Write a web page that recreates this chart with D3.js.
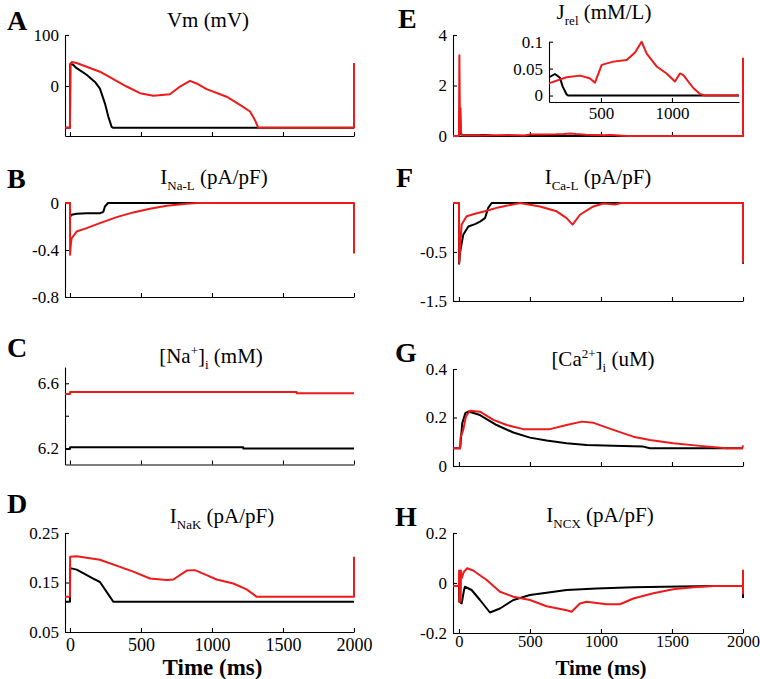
<!DOCTYPE html>
<html>
<head>
<meta charset="utf-8">
<script src="https://cdn.jsdelivr.net/npm/d3@7"></script>
<style>
  body { margin: 0; background: #fff; }
  svg { display: block; }
  text { font-family: "Liberation Serif", "Times New Roman", serif; fill: #000; }
</style>
</head>
<body>
<svg id="chart" width="760" height="679"></svg>
<script>
// ---------------- DATA ----------------
const timeTicks = [0, 500, 1000, 1500, 2000];
const timeTickLabels = ["0", "500", "1000", "1500", "2000"];

// A: Vm (mV)
const vmTicks = [0, 100];
const vmTickLabels = ["0", "100"];
const vmBlack = [[-35,-82],[0,-82],[2,43],[20,42],[47,35],[117,22],[176,8],[211,-5],[246,-34],[270,-60],[293,-80],[305,-82],[2000,-82]];
const vmRed = [[-35,-82],[0,-82],[3,44],[12,47],[47,45],[211,28],[399,-1],[493,-14],[587,-19],[704,-16],[775,-1],[845,10],[892,5],[962,-6],[1103,-21],[1197,-37],[1268,-50],[1303,-67],[1326,-82],[2000,-82],[2000,45]];

// B: INa-L (pA/pF)
const inalTicks = [-0.8, -0.4, 0];
const inalTickLabels = ["-0.8", "-0.4", "0"];
const inalBlack = [[-35,0],[0,0],[1,-0.115],[12,-0.1],[47,-0.092],[117,-0.087],[211,-0.087],[235,-0.075],[246,-0.03],[268,0],[2000,0]];
const inalRed = [[-35,0],[0,0],[1,-0.44],[6,-0.35],[12,-0.3],[47,-0.243],[117,-0.214],[211,-0.171],[329,-0.12],[446,-0.08],[563,-0.049],[681,-0.023],[822,-0.006],[900,0],[2000,0],[2000,-0.43]];

// C: [Na+]i (mM)
const naiTicks = [6.2, 6.4, 6.6];
const naiTickLabels = ["6.2", "", "6.6"];
const naiBlack = [[-35,6.196],[0,6.196],[1,6.206],[1220,6.206],[1221,6.198],[2000,6.198]];
const naiRed = [[-35,6.534],[0,6.534],[1,6.546],[1596,6.546],[1597,6.538],[2000,6.538]];

// D: INaK (pA/pF)
const nakTicks = [0.05, 0.15, 0.25];
const nakTickLabels = ["0.05", "0.15", "0.25"];
const nakBlack = [[-35,0.111],[0,0.111],[1,0.179],[47,0.176],[164,0.158],[211,0.151],[282,0.121],[305,0.111],[2000,0.111]];
const nakRed = [[-35,0.121],[0,0.121],[1,0.202],[47,0.203],[211,0.196],[446,0.172],[563,0.158],[681,0.155],[728,0.156],[822,0.174],[880,0.175],[962,0.165],[1033,0.156],[1150,0.148],[1244,0.136],[1315,0.121],[2000,0.121],[2000,0.202]];

// E: Jrel (mM/L)
const jrelTicks = [0, 2, 4];
const jrelTickLabels = ["0", "2", "4"];
const jrelInsetTicks = [0, 0.05, 0.1];
const jrelInsetTickLabels = ["0", "0.05", "0.1"];
const jrelInsetTimeTicks = [500, 1000];
const jrelInsetTimeLabels = ["500", "1000"];
const jrelBlack = [[-42,0],[0,0],[5,1.0],[12,0.1],[20,0.03],[100,0.033],[136,0.034],[176,0.04],[211,0.033],[230,0.017],[258,0.002],[270,0],[2000,0]];
const jrelRed = [[-42,0],[0,0],[3,3.2],[7,0.3],[11,1.1],[15,0.15],[20,0.02],[60,0.02],[136,0.023],[258,0.034],[352,0.037],[420,0.032],[458,0.024],[505,0.057],[587,0.063],[681,0.066],[740,0.08],[786,0.1],[822,0.078],[892,0.054],[962,0.041],[1021,0.026],[1056,0.041],[1080,0.038],[1150,0.014],[1197,0.003],[1230,0],[2000,0],[2000,3.1]];

// F: ICa-L (pA/pF)
const icalTicks = [-1.5, -0.5];
const icalTickLabels = ["-1.5", "-0.5"];
const icalBlack = [[-42,0.5],[0,0.5],[1,-0.74],[8,-0.5],[30,-0.15],[66,0.02],[113,0.07],[148,0.12],[183,0.19],[206,0.4],[230,0.5],[2000,0.5],[2000,-0.74]];
const icalRed = [[-42,0.5],[0,0.5],[2,-0.72],[10,-0.3],[19,0.06],[54,0.23],[113,0.28],[183,0.33],[277,0.41],[430,0.5],[570,0.43],[688,0.33],[758,0.19],[800,0.06],[852,0.26],[946,0.43],[1016,0.49],[1100,0.47],[1140,0.5],[2000,0.5],[2000,-0.72]];

// G: [Ca2+]i (uM)
const caiTicks = [0, 0.2, 0.4];
const caiTickLabels = ["0", "0.2", "0.4"];
const caiBlack = [[-42,0.073],[8,0.073],[23,0.176],[45,0.218],[68,0.225],[148,0.21],[265,0.169],[383,0.138],[500,0.117],[617,0.105],[758,0.094],[899,0.087],[1087,0.083],[1298,0.08],[1345,0.073],[2000,0.073]];
const caiRed = [[-42,0.073],[8,0.073],[12,0.12],[30,0.149],[49,0.204],[77,0.228],[148,0.224],[242,0.19],[336,0.169],[453,0.152],[641,0.152],[758,0.169],[864,0.183],[948,0.178],[1087,0.149],[1228,0.121],[1345,0.107],[1509,0.094],[1697,0.083],[1885,0.073],[1995,0.073],[2000,0.085]];

// H: INCX (pA/pF)
const ncxTicks = [-0.2, 0, 0.2];
const ncxTickLabels = ["-0.2", "0", "0.2"];
const ncxBlack = [[-42,-0.012],[0,-0.012],[2,-0.075],[19,-0.082],[35,-0.03],[42,-0.015],[89,-0.028],[148,-0.068],[218,-0.118],[289,-0.102],[383,-0.068],[500,-0.048],[617,-0.039],[758,-0.028],[969,-0.022],[1228,-0.017],[1556,-0.014],[1800,-0.012],[2000,-0.012],[2000,-0.06]];
const ncxRed = [[-42,-0.012],[0,-0.012],[1,0.05],[3,-0.075],[12,-0.075],[14,0.05],[19,0.019],[35,0.045],[58,0.059],[100,0.05],[195,0.012],[289,-0.035],[383,-0.055],[500,-0.068],[617,-0.093],[758,-0.109],[793,-0.115],[852,-0.082],[899,-0.075],[1040,-0.085],[1134,-0.085],[1228,-0.062],[1369,-0.041],[1509,-0.025],[1650,-0.017],[1791,-0.012],[2000,-0.012],[2000,0.05],[2000,-0.045]];

// ---------------- LAYOUT ----------------
const RED = "#ee1a1a";
const SERIF = '"Liberation Serif", "Times New Roman", Times, serif';
const svg = d3.select("#chart");
svg.append("rect").attr("width", 760).attr("height", 679).attr("fill", "#fff");

const cols = {
  left:  { domain: [-35, 2000], range: [65, 354] },
  right: { domain: [-42, 2000], range: [453, 743] }
};

const panels = [
  { letter: "A", lx: 7,   ly: 30,  col: "left",  yRange: [136, 35],    yDomain: [-98, 100],  ticks: vmTicks,   labels: vmTickLabels,   black: vmBlack,   red: vmRed,
    title: [["Vm (mV)", 0]], tx: 208, ty: 27 },
  { letter: "B", lx: 7,   ly: 188, col: "left",  yRange: [297, 203],   yDomain: [-0.8, 0],   ticks: inalTicks, labels: inalTickLabels, black: inalBlack, red: inalRed,
    title: [["I", 0], ["Na-L", 1], [" (pA/pF)", 0]], tx: 214, ty: 184 },
  { letter: "C", lx: 7,   ly: 357, col: "left",  yRange: [464.5, 367], yDomain: [6.1, 6.7],  ticks: naiTicks,  labels: naiTickLabels,  black: naiBlack,  red: naiRed,
    title: [["[Na", 0], ["+", 2], ["]", 0], ["i", 1], [" (mM)", 0]], tx: 211, ty: 363 },
  { letter: "D", lx: 7,   ly: 513, col: "left",  yRange: [632, 533],   yDomain: [0.05, 0.25], ticks: nakTicks, labels: nakTickLabels,  black: nakBlack,  red: nakRed,
    title: [["I", 0], ["NaK", 1], [" (pA/pF)", 0]], tx: 222, ty: 523, xlabels: true, xfs: 18, xly: 651, tfs: 23 },
  { letter: "E", lx: 398, ly: 28,  col: "right", yRange: [136, 35],    yDomain: [0, 4],      ticks: jrelTicks, labels: jrelTickLabels, black: jrelBlack, red: jrelRed,
    title: [["J", 0], ["rel", 1], [" (mM/L)", 0]], tx: 604, ty: 19, inset: true },
  { letter: "F", lx: 396, ly: 187, col: "right", yRange: [301, 203],   yDomain: [-1.5, 0.5], ticks: icalTicks, labels: icalTickLabels, black: icalBlack, red: icalRed,
    title: [["I", 0], ["Ca-L", 1], [" (pA/pF)", 0]], tx: 598, ty: 184 },
  { letter: "G", lx: 395, ly: 362, col: "right", yRange: [466, 369],   yDomain: [0, 0.4],    ticks: caiTicks,  labels: caiTickLabels,  black: caiBlack,  red: caiRed,
    title: [["[Ca", 0], ["2+", 2], ["]", 0], ["i", 1], [" (uM)", 0]], tx: 603, ty: 366 },
  { letter: "H", lx: 395, ly: 526, col: "right", yRange: [633, 533],   yDomain: [-0.2, 0.2], ticks: ncxTicks,  labels: ncxTickLabels,  black: ncxBlack,  red: ncxRed,
    title: [["I", 0], ["NCX", 1], [" (pA/pF)", 0]], tx: 600, ty: 522, xlabels: true, xfs: 16.5, xly: 647, tfs: 21 }
];

function drawTitle(g, parts, x, y, fs) {
  const t = g.append("text").attr("x", x).attr("y", y).attr("text-anchor", "middle")
    .attr("font-size", fs).attr("font-family", SERIF);
  let shift = 0;
  parts.forEach(([s, kind]) => {
    const target = kind === 1 ? fs * 0.28 : kind === 2 ? -fs * 0.38 : 0;
    t.append("tspan").text(s).attr("dy", target - shift)
      .attr("font-size", kind === 0 ? fs : fs * 0.62);
    shift = target;
  });
}

function styleAxis(sel, fs) {
  sel.attr("font-family", SERIF).attr("font-size", fs);
  sel.select(".domain").attr("stroke", "#000").attr("stroke-width", 1.1);
  sel.selectAll(".tick line").attr("stroke", "#000").attr("stroke-width", 1.1);
  sel.selectAll(".tick text").attr("font-size", fs).attr("fill", "#000").attr("font-family", SERIF);
}

panels.forEach(p => {
  const c = cols[p.col];
  const x = d3.scaleLinear().domain(c.domain).range(c.range);
  const y = d3.scaleLinear().domain(p.yDomain).range(p.yRange);
  const g = svg.append("g");

  // axes
  const yAxis = d3.axisLeft(y).tickValues(p.ticks)
    .tickFormat((d, i) => p.labels[i]).tickSizeInner(-4).tickSizeOuter(0).tickPadding(6);
  const gy = g.append("g").attr("transform", `translate(${c.range[0]},0)`).call(yAxis);
  styleAxis(gy, 17);

  const xAxis = d3.axisBottom(x).tickValues(timeTicks)
    .tickFormat((d, i) => p.xlabels ? timeTickLabels[i] : "").tickSizeInner(-4).tickSizeOuter(0).tickPadding(4);
  const gx = g.append("g").attr("transform", `translate(0,${p.yRange[0]})`).call(xAxis);
  styleAxis(gx, p.xfs || 16);
  if (p.xlabels) {
    gx.selectAll(".tick text").attr("dy", null).attr("y", p.xly - p.yRange[0]);
    g.append("text").attr("x", (c.range[0] + c.range[1]) / 2 + 3).attr("y", 675)
      .attr("text-anchor", "middle").attr("font-size", p.tfs).attr("font-weight", "bold")
      .attr("font-family", SERIF).text("Time (ms)");
  }

  // data lines
  const line = d3.line().x(d => x(d[0])).y(d => y(d[1]));
  g.append("path").datum(p.black).attr("d", line).attr("fill", "none")
    .attr("stroke", "#000").attr("stroke-width", 2).attr("stroke-linejoin", "round");
  g.append("path").datum(p.red).attr("d", line).attr("fill", "none")
    .attr("stroke", RED).attr("stroke-width", 2).attr("stroke-linejoin", "round");

  // title and letter
  drawTitle(g, p.title, p.tx, p.ty, 21);
  g.append("text").attr("x", p.lx).attr("y", p.ly).attr("font-size", 28).attr("font-weight", "bold")
    .attr("font-family", SERIF).text(p.letter);

  if (p.inset) {
    const ix = d3.scaleLinear().domain([134, 1472]).range([549, 739]);
    const iy = d3.scaleLinear().domain([-0.012, 0.1]).range([102, 41.7]);
    const gi = svg.append("g");
    gi.append("clipPath").attr("id", "insetClip").append("rect")
      .attr("x", 549).attr("y", 30).attr("width", 190).attr("height", 72);
    const iyAxis = d3.axisLeft(iy).tickValues(jrelInsetTicks)
      .tickFormat((d, i) => jrelInsetTickLabels[i]).tickSizeInner(-4).tickSizeOuter(0).tickPadding(6);
    styleAxis(gi.append("g").attr("transform", "translate(549,0)").call(iyAxis), 17);
    const ixAxis = d3.axisBottom(ix).tickValues(jrelInsetTimeTicks)
      .tickFormat((d, i) => jrelInsetTimeLabels[i]).tickSizeInner(-4).tickSizeOuter(0).tickPadding(4);
    const gix = gi.append("g").attr("transform", "translate(0,102)").call(ixAxis);
    styleAxis(gix, 17);
    gix.selectAll(".tick text").attr("dy", null).attr("y", 17);
    const il = d3.line().x(d => ix(d[0])).y(d => iy(d[1]));
    const gl = gi.append("g").attr("clip-path", "url(#insetClip)");
    gl.append("path").datum(jrelBlack).attr("d", il).attr("fill", "none")
      .attr("stroke", "#000").attr("stroke-width", 2).attr("stroke-linejoin", "round");
    gl.append("path").datum(jrelRed).attr("d", il).attr("fill", "none")
      .attr("stroke", RED).attr("stroke-width", 2).attr("stroke-linejoin", "round");
  }
});
</script>
</body>
</html>
